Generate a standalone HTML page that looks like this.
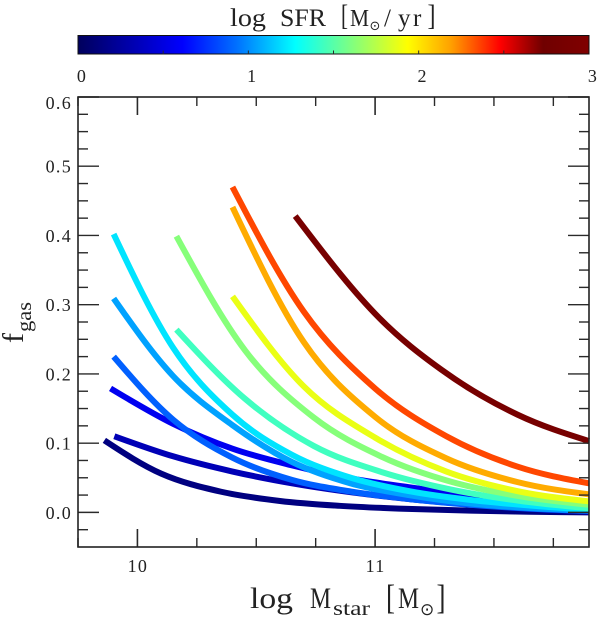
<!DOCTYPE html>
<html>
<head>
<meta charset="utf-8">
<title>Gas fraction vs stellar mass</title>
<style>
html,body{margin:0;padding:0;background:#fff;}
svg{display:block;}
text{font-family:"Liberation Serif",serif;fill:#222;}
</style>
</head>
<body>
<svg id="chart" xmlns="http://www.w3.org/2000/svg" width="600" height="618" viewBox="0 0 600 618">
  <defs>
    <linearGradient id="jet" x1="0" x2="1" y1="0" y2="0">
      <stop offset="0" stop-color="#00005c"/>
      <stop offset="0.205" stop-color="#0000ff"/>
      <stop offset="0.31" stop-color="#0070ff"/>
      <stop offset="0.425" stop-color="#00ffff"/>
      <stop offset="0.535" stop-color="#80ff80"/>
      <stop offset="0.645" stop-color="#ffff00"/>
      <stop offset="0.73" stop-color="#ffa000"/>
      <stop offset="0.826" stop-color="#ff0000"/>
      <stop offset="0.91" stop-color="#700000"/>
      <stop offset="1" stop-color="#800000"/>
    </linearGradient>
  </defs>
  <g>
    <text x="230" y="26" font-size="25" textLength="36" lengthAdjust="spacingAndGlyphs">log</text>
    <text x="280" y="26" font-size="25" textLength="46" lengthAdjust="spacingAndGlyphs">SFR</text>
    <text x="341" y="25" font-size="30" textLength="7" lengthAdjust="spacingAndGlyphs">[</text>
    <text x="350" y="26" font-size="24" textLength="19" lengthAdjust="spacingAndGlyphs">M</text>
    <text x="369.5" y="30" font-size="13" style="font-family:'DejaVu Sans',sans-serif">⊙</text>
    <text x="384 398 413" y="26" font-size="25">/yr</text>
    <text x="427.5" y="25" font-size="30" textLength="8" lengthAdjust="spacingAndGlyphs">]</text>
  </g>
  <rect x="78" y="35.5" width="511" height="18.5" fill="url(#jet)" stroke="#111" stroke-width="1"/>
  <g id="colorbar-ticks"></g>
  <g id="series"></g>
  <g id="axes"></g>
  <rect x="78" y="97" width="511" height="450" fill="none" stroke="#222" stroke-width="1.6"/>
  <g>
    <text transform="translate(23,343) rotate(-90)" font-size="30">f</text>
    <text transform="translate(31,332) rotate(-90)" font-size="20" textLength="30" lengthAdjust="spacingAndGlyphs">gas</text>
  </g>
  <g>
    <text x="250" y="608" font-size="30" textLength="43" lengthAdjust="spacingAndGlyphs">log</text>
    <text x="310" y="608" font-size="30" textLength="21" lengthAdjust="spacingAndGlyphs">M</text>
    <text x="333" y="615" font-size="20" textLength="37" lengthAdjust="spacingAndGlyphs">star</text>
    <text x="386" y="609" font-size="35" textLength="9" lengthAdjust="spacingAndGlyphs">[</text>
    <text x="398" y="608" font-size="30" textLength="21" lengthAdjust="spacingAndGlyphs">M</text>
    <text x="420" y="615" font-size="17" style="font-family:'DejaVu Sans',sans-serif">⊙</text>
    <text x="436.5" y="609" font-size="35" textLength="9" lengthAdjust="spacingAndGlyphs">]</text>
  </g>
</svg>
<script>
// --- data ---
const sfrValues = [0.135, 0.34, 0.56, 0.885, 1.05, 1.21, 1.44, 1.62, 1.88, 2.16, 2.35, 2.85];
const seriesNames = ['navy','dark-blue','blue','azure','sky-blue','cyan','teal','green','yellow','orange','red-orange','maroon'];

const massNavy = [9.861,10.1,10.35,10.6,10.85,11.1,11.4,11.65,11.9];
const fgasNavy = [.104,.056,.030,.0165,.0095,.0055,.0025,.001,0];
const massDarkBlue = [9.903,10.15,10.4,10.65,10.9,11.15,11.4,11.65,11.9];
const fgasDarkBlue = [.110,.081,.059,.042,.029,.019,.0115,.005,.001];
const massBlue = [9.887,10.15,10.4,10.65,10.9,11.15,11.4,11.65,11.9];
const fgasBlue = [.179,.128,.092,.068,.049,.036,.025,.014,.006];
const massAzure = [9.9,10.15,10.4,10.65,10.9,11.15,11.4,11.65,11.9];
const fgasAzure = [.225,.134,.079,.047,.030,.019,.011,.0055,.002];
const massSky = [9.9,10.15,10.4,10.65,10.9,11.15,11.4,11.65,11.9];
const fgasSky = [.309,.197,.126,.0728,.0416,.0245,.0128,.0064,.003];
const massCyan = [9.9,10.15,10.4,10.65,10.9,11.15,11.4,11.65,11.9];
const fgasCyan = [.402,.238,.141,.0833,.0498,.0302,.018,.010,.004];
const massTeal = [10.164,10.453,10.742,11.03,11.32,11.61,11.9];
const fgasTeal = [.264,.164,.096,.058,.033,.0166,.006];
const massGreen = [10.164,10.453,10.742,11.03,11.32,11.61,11.9];
const fgasGreen = [.399,.234,.137,.080,.0442,.0233,.011];
const massYellow = [10.4,10.7,11.0,11.3,11.6,11.9];
const fgasYellow = [.312,.182,.108,.059,.0307,.016];
const massOrange = [10.4,10.7,11.0,11.3,11.6,11.9];
const fgasOrange = [.441,.246,.138,.078,.0437,.026];
const massRedOrange = [10.4,10.7,11.0,11.3,11.6,11.9];
const fgasRedOrange = [.470,.290,.179,.110,.066,.042];
const massMaroon = [10.664,11.0,11.3,11.6,11.9];
const fgasMaroon = [.428,.287,.201,.141,.103];

const massSeries = [massNavy,massDarkBlue,massBlue,massAzure,massSky,massCyan,massTeal,massGreen,massYellow,massOrange,massRedOrange,massMaroon];
const fgasSeries = [fgasNavy,fgasDarkBlue,fgasBlue,fgasAzure,fgasSky,fgasCyan,fgasTeal,fgasGreen,fgasYellow,fgasOrange,fgasRedOrange,fgasMaroon];

const xMajorTicks = [10, 11];
const xMinorTicks = [9.75,10.25,10.5,10.75,11.25,11.5,11.75];
const yMajorTicks = [0,0.1,0.2,0.3,0.4,0.5,0.6];
const yMinorTicks = [-0.025,0.025,0.05,0.075,0.125,0.15,0.175,0.225,0.25,0.275,0.325,0.35,0.375,0.425,0.45,0.475,0.525,0.55,0.575];
const colorbarLabels = [0,1,2,3];
const colorbarTicks = [0.5,1,1.5,2,2.5];

// --- scales ---
const X_LEFT = 78, X_RIGHT = 589, Y_TOP = 97, Y_BOTTOM = 547;
function xScale(m){ return X_LEFT + (m - 9.75) / (11.9 - 9.75) * (X_RIGHT - X_LEFT); }
function yScale(f){ return Y_BOTTOM - (f + 0.05) / 0.65 * (Y_BOTTOM - Y_TOP); }
function cbScale(v){ return 78 + v / 3 * 511; }

function jetColor(v){
  const stops = [[0,0,0,92],[.205,0,0,255],[.31,0,112,255],[.425,0,255,255],[.535,128,255,128],[.645,255,255,0],[.73,255,160,0],[.826,255,0,0],[.91,112,0,0],[1,128,0,0]];
  const t = Math.max(0, Math.min(1, v / 3));
  for (let i = 1; i < stops.length; i++) {
    if (t <= stops[i][0]) {
      const a = stops[i-1], b = stops[i], k = (t - a[0]) / (b[0] - a[0]);
      return 'rgb(' + [1,2,3].map(function(c){ return Math.round(a[c] + (b[c] - a[c]) * k); }).join(',') + ')';
    }
  }
  return 'rgb(128,0,0)';
}

const NS = 'http://www.w3.org/2000/svg';
function tickLine(parent, x1, y1, x2, y2, w){
  const l = document.createElementNS(NS, 'line');
  l.setAttribute('x1', x1); l.setAttribute('y1', y1);
  l.setAttribute('x2', x2); l.setAttribute('y2', y2);
  l.setAttribute('stroke', '#2a2a2a');
  l.setAttribute('stroke-width', w);
  
  
  parent.appendChild(l);
}
function label(parent, str, x, y, anchor){
  const t = document.createElementNS(NS, 'text');
  t.setAttribute('x', x); t.setAttribute('y', y);
  t.setAttribute('text-anchor', anchor);
  t.setAttribute('font-size', '18');
  t.setAttribute('letter-spacing', '1.3');
  
  
  t.textContent = str;
  parent.appendChild(t);
}

// --- series: smooth cubic through the read points, with tangents taken in data space ---
function smoothPath(xs, ys){
  const n = xs.length;
  const sec = [];
  for (let i = 0; i < n - 1; i++) sec.push((ys[i+1] - ys[i]) / (xs[i+1] - xs[i]));
  const tan = [];
  for (let i = 1; i < n - 1; i++) tan[i] = (ys[i+1] - ys[i-1]) / (xs[i+1] - xs[i-1]);
  tan[0] = (3 * sec[0] - tan[1]) / 2;
  tan[n-1] = (3 * sec[n-2] - tan[n-2]) / 2;
  let d = 'M' + xScale(xs[0]).toFixed(2) + ' ' + yScale(ys[0]).toFixed(2);
  for (let i = 0; i < n - 1; i++) {
    const h = (xs[i+1] - xs[i]) / 3;
    d += 'C' + xScale(xs[i] + h).toFixed(2) + ' ' + yScale(ys[i] + tan[i] * h).toFixed(2) +
         ' ' + xScale(xs[i+1] - h).toFixed(2) + ' ' + yScale(ys[i+1] - tan[i+1] * h).toFixed(2) +
         ' ' + xScale(xs[i+1]).toFixed(2) + ' ' + yScale(ys[i+1]).toFixed(2);
  }
  return d;
}
const seriesGroup = document.getElementById('series');
massSeries.forEach(function(xs, i){
  const p = document.createElementNS(NS, 'path');
  p.setAttribute('d', smoothPath(xs, fgasSeries[i]));
  p.setAttribute('fill', 'none');
  p.setAttribute('stroke', jetColor(sfrValues[i]));
  p.setAttribute('stroke-width', '6');
  
  
  seriesGroup.appendChild(p);
});

// --- axes ---
const axes = document.getElementById('axes');
xMajorTicks.forEach(function(v){
  const x = xScale(v);
  tickLine(axes, x, Y_TOP, x, Y_TOP + 18, 1.6);
  tickLine(axes, x, Y_BOTTOM, x, Y_BOTTOM - 18, 1.6);
  label(axes, String(v), x + 0.5, 572, 'middle');
});
xMinorTicks.forEach(function(v){
  const x = xScale(v);
  tickLine(axes, x, Y_TOP, x, Y_TOP + 9, 1.4);
  tickLine(axes, x, Y_BOTTOM, x, Y_BOTTOM - 9, 1.4);
});
yMajorTicks.forEach(function(v){
  const y = yScale(v);
  tickLine(axes, X_LEFT, y, X_LEFT + 21, y, 1.4);
  tickLine(axes, X_RIGHT, y, X_RIGHT - 21, y, 1.4);
  label(axes, v.toFixed(1), 72, Math.max(y + 6.5, 109), 'end');
});
yMinorTicks.forEach(function(v){
  const y = yScale(v);
  tickLine(axes, X_LEFT, y, X_LEFT + 10, y, 1.4);
  tickLine(axes, X_RIGHT, y, X_RIGHT - 10, y, 1.4);
});

// --- colorbar ---
const cb = document.getElementById('colorbar-ticks');
colorbarTicks.forEach(function(v){
  const x = cbScale(v);
  tickLine(cb, x, 54, x, 50.5, 1);
});
colorbarLabels.forEach(function(v){
  label(cb, String(v), cbScale(v) + 4, 82, 'middle');
});
</script>
</body>
</html>
